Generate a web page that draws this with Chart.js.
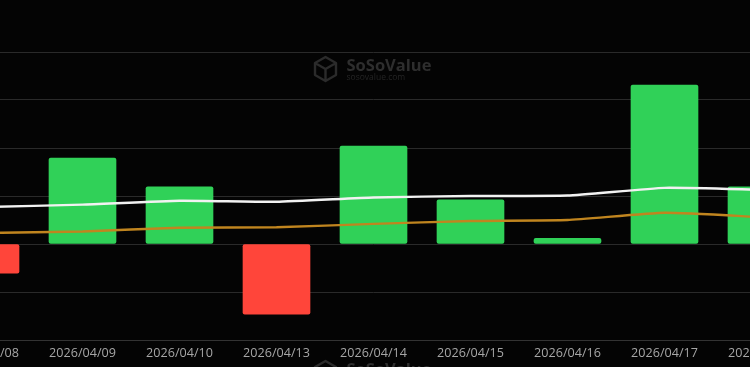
<!DOCTYPE html>
<html><head><meta charset="utf-8">
<style>
html,body{margin:0;padding:0;background:#040404;width:750px;height:367px;overflow:hidden}
#wrap{position:absolute;left:-63.5px;top:0;width:873px;height:367px}
</style>
<script src="https://cdn.jsdelivr.net/npm/chart.js@4"></script>
</head><body>
<div id="wrap"><canvas id="c" width="873" height="367"></canvas></div>
<script>
const categories=["2026/04/08","2026/04/09","2026/04/10","2026/04/13","2026/04/14","2026/04/15","2026/04/16","2026/04/17","2026/04/20"];
const flows=[-61,179,119,-146,204,92,12,331,119];
const whiteLine=[77,82,90,88,97,100,101,117,113];
const orangeLine=[23,26,34,35,42,48,50,65,56];
const yTicks=[-200,-100,0,100,200,300,400];
const GREEN="#30d158",RED="#ff453a";
const watermark={id:"watermark",beforeDatasetsDraw(ch){
  const g=ch.ctx;
  const draw=(ox,oy)=>{
    g.save();g.translate(ox,oy);
    g.strokeStyle="#2b2b2b";g.lineWidth=2.4;g.lineJoin="round";
    g.beginPath();g.moveTo(0,-12);g.lineTo(10.5,-6);g.lineTo(10.5,6);g.lineTo(0,12);g.lineTo(-10.5,6);g.lineTo(-10.5,-6);g.closePath();
    g.moveTo(-10.5,-6);g.lineTo(0,0);g.lineTo(10.5,-6);g.moveTo(0,0);g.lineTo(0,12);g.stroke();
    g.fillStyle="#2e2e2e";g.textBaseline="alphabetic";g.textAlign="left";
    g.font="bold 16.5px 'Open Sans',sans-serif";g.fillText("SoSoValue",21,2);
    g.fillStyle="#252525";g.font="8.5px 'Open Sans',sans-serif";g.fillText("sosovalue.com",21,11);
    g.restore();
  };
  draw(325+63.5,69);draw(325+63.5,373);
}};
new Chart(document.getElementById("c"),{
  data:{labels:categories,datasets:[
    {type:"line",data:whiteLine,borderColor:"#f2f2f2",borderWidth:2.4,pointRadius:0,tension:0.15,order:1},
    {type:"line",data:orangeLine,borderColor:"#c0851f",borderWidth:2.4,pointRadius:0,tension:0.15,order:2},
    {type:"bar",data:flows,backgroundColor:flows.map(v=>v<0?RED:GREEN),barThickness:67,borderRadius:2,borderSkipped:false,order:3}
  ]},
  options:{responsive:false,animation:false,
    layout:{padding:{top:52,bottom:0,left:0,right:0}},
    plugins:{legend:{display:false},tooltip:{enabled:false}},
    scales:{
      x:{grid:{display:false},border:{color:"#333",width:1},
         afterFit(a){a.height=27;},
         ticks:{color:"#a6a6a6",font:{size:12.6,family:"'Open Sans',sans-serif"},maxRotation:0,autoSkip:false,padding:-2}},
      y:{min:-200,max:400,afterBuildTicks(a){a.ticks=yTicks.map(v=>({value:v}));},
         grid:{color:"#2a2a2a",lineWidth:1,drawTicks:false},border:{display:false},
         ticks:{display:false}}
    }
  },
  plugins:[watermark]
});
</script>
</body></html>
